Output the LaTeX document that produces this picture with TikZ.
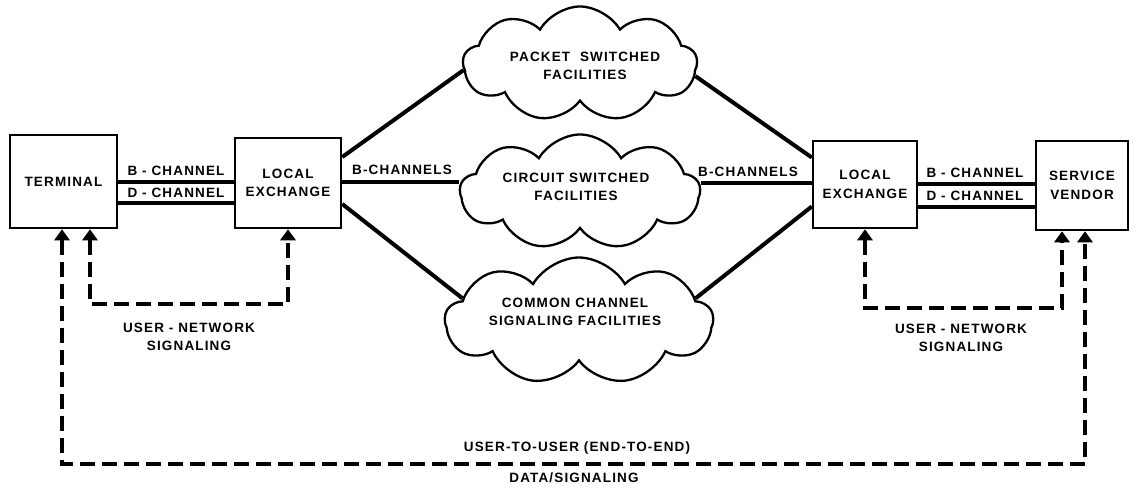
\documentclass[tikz,border=0pt]{standalone}
\usepackage{fontspec}
\setmainfont{Liberation Sans}
\newfontfamily\labfont[LetterSpace=8.5]{Liberation Sans}
\usetikzlibrary{shapes.symbols,arrows.meta,calc}
\begin{document}
\begin{tikzpicture}[x=1pt,y=-1pt,
 lbl/.style={font=\labfont\bfseries\fontsize{13.5}{18.5}\selectfont, align=center, inner sep=0},
 box/.style={draw, line width=2.5pt, inner sep=0, lbl},
 cl/.style={cloud, cloud puffs=9, cloud puff arc=120, cloud ignores aspect, draw, line width=2.3pt, inner sep=0},
 chan/.style={line width=3.5pt},
 link/.style={line width=4pt},
 sig/.style={line width=3.5pt, dash pattern=on 15pt off 7pt, {Triangle[width=15pt,length=11pt]}-{Triangle[width=15pt,length=11pt]}},
]
\useasboundingbox (0,0) rectangle (1137,487);

% boxes
\node[box, minimum width=107pt, minimum height=93pt] (term) at (63.5,181.5) {TERMINAL};
\node[box, minimum width=106pt, minimum height=90pt] (lexL) at (288,183) {LOCAL\\EXCHANGE};
\node[box, minimum width=104pt, minimum height=87pt] (lexR) at (865,184.5) {LOCAL\\EXCHANGE};
\node[box, minimum width=92pt, minimum height=89pt] (vend) at (1082,185.5) {SERVICE\\VENDOR};

% clouds
\node[cl, minimum width=234pt, minimum height=115pt] (packet) at (580,64) {};
\node[cl, minimum width=240pt, minimum height=115pt] (circuit) at (580,192) {};
\node[cl, minimum width=268pt, minimum height=127pt] (common) at (579,321) {};
\node[lbl] (packetT) at (585,66) {PACKET\ \ SWITCHED\\FACILITIES};
\node[lbl] (circuitT) at (576,187) {CIRCUIT SWITCHED\\FACILITIES};
\node[lbl] (commonT) at (575,312) {COMMON CHANNEL\\SIGNALING FACILITIES};

% channel lines left
\coordinate (lB) at ($(term.east)+(0,0.5)$);
\coordinate (lD) at ($(term.east)+(0,21.5)$);
\draw[chan] (lB) -- (lB -| lexL.west);
\draw[chan] (lD) -- (lD -| lexL.west);
\node[lbl] (lBt) at (176,171) {B - CHANNEL};
\node[lbl] (lDt) at (176,192.5) {D - CHANNEL};

% channel lines right
\coordinate (rB) at ($(lexR.east)+(0,-0.5)$);
\coordinate (rD) at ($(lexR.east)+(0,22.5)$);
\draw[chan] (rB) -- (rB -| vend.west);
\draw[chan] (rD) -- (rD -| vend.west);
\node[lbl] (rBt) at (975,173) {B - CHANNEL};
\node[lbl] (rDt) at (975,196) {D - CHANNEL};

% links to clouds
\draw[link] ($(lexL.east)+(0,-26)$) -- (packet.183);
\draw[link] ($(lexL.east)+(0,-1)$) -- (circuit.west |- 0,182);
\draw[link] ($(lexL.east)+(0,21)$) -- (common.169);
\draw[link] (packet.354) -- ($(lexR.west)+(0,-27)$);
\draw[link] (circuit.east |- 0,183) -- ($(lexR.west)+(0,-1.5)$);
\draw[link] (common.11) -- ($(lexR.west)+(0,22)$);
\node[lbl] (bchL) at (402,170) {B-CHANNELS};
\node[lbl] (bchR) at (748,172) {B-CHANNELS};

% signaling
\coordinate (a1) at (90,304);
\draw[sig] (term.south -| a1) -- (a1) -- (a1 -| lexL) -- (lexL.south);
\coordinate (b1) at (1062,308);
\draw[sig] (lexR.south) -- (lexR.south |- b1) -- (b1) -- (vend.south -| b1);
\coordinate (c1) at (62,464);
\coordinate (c2) at (1085,464);
\draw[sig] (term.south -| c1) -- (c1) -- (c2) -- (vend.south -| c2);

\node[lbl] (unL) at (189,337) {USER - NETWORK\\SIGNALING};
\node[lbl] (unR) at (961,338) {USER - NETWORK\\SIGNALING};
\node[lbl] (u2u) at (577,448) {USER-TO-USER (END-TO-END)};
\node[lbl] (dsig) at (574,478) {DATA/SIGNALING};
\end{tikzpicture}
\end{document}
